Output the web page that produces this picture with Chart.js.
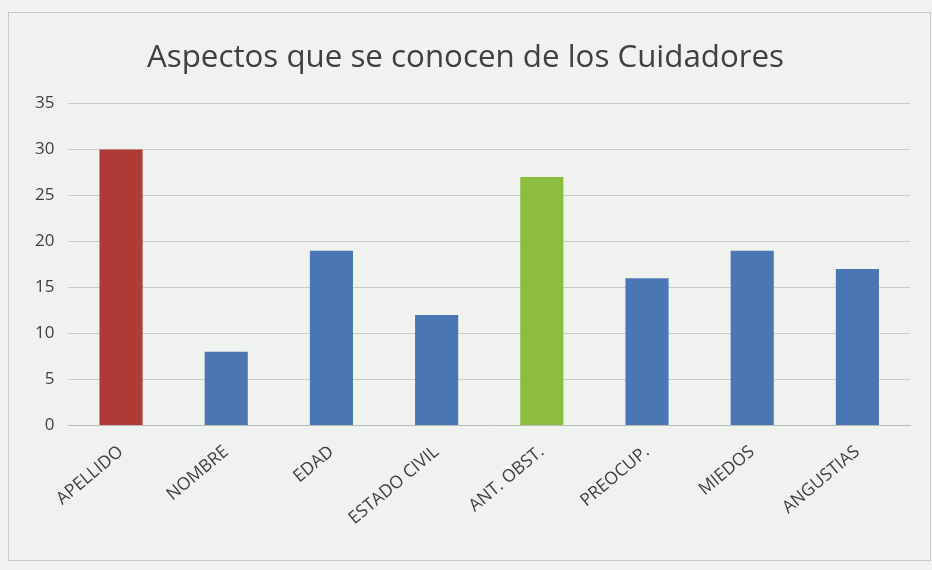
<!DOCTYPE html>
<html>
<head>
<meta charset="utf-8">
<script src="https://cdn.jsdelivr.net/npm/chart.js@4"></script>
<style>
    html, body { margin: 0; padding: 0; background: #eff2ee; }
    #wrap { position: relative; width: 932px; height: 570px; }
</style>
</head>
<body>
<div id="wrap"><canvas id="chart" width="932" height="570"></canvas></div>
<script>
// Data
const categories = [ 'APELLIDO', 'NOMBRE', 'EDAD', 'ESTADO CIVIL', 'ANT. OBST.', 'PREOCUP.', 'MIEDOS', 'ANGUSTIAS' ]
const values = [ 30, 8, 19, 12, 27, 16, 19, 17 ]
const barColors = [ '#b03a35', '#4a77b4', '#4a77b4', '#4a77b4', '#8dbd3f', '#4a77b4', '#4a77b4', '#4a77b4' ]
const yTicks = [ 0, 5, 10, 15, 20, 25, 30, 35 ]

const background = {
    id: 'background',
    beforeDraw (chart) {
        const ctx = chart.ctx
        ctx.save()
        ctx.fillStyle = '#eff2ee'
        ctx.fillRect(0, 0, chart.width, chart.height)
        ctx.strokeStyle = '#c8ccc8'
        ctx.lineWidth = 1
        ctx.strokeRect(8.5, 12.5, chart.width - 10, chart.height - 22)
        ctx.restore()
    },
}

const ctx = document.getElementById('chart').getContext('2d')
new Chart(ctx, {
    type: 'bar',
    data: {
        labels: categories,
        datasets: [
            {
                data: values,
                backgroundColor: barColors,
                categoryPercentage: 1,
                barPercentage: 0.41,
            },
        ],
    },
    options: {
        responsive: false,
        animation: false,
        layout: { padding: { left: 21, right: 22, top: 39, bottom: 33 } },
        plugins: {
            legend: { display: false },
            tooltip: { enabled: false },
            title: {
                display: true,
                text: 'Aspectos que se conocen de los Cuidadores',
                color: '#404040',
                font: { family: 'Open Sans', size: 31.3, weight: 'normal' },
                padding: { top: 0, bottom: 27 },
            },
        },
        scales: {
            y: {
                min: 0,
                max: 35,
                afterBuildTicks: (axis) => { axis.ticks = yTicks.map((v) => ({ value: v })) },
                grid: { color: '#c9ccc9', drawTicks: false },
                border: { display: false },
                ticks: {
                    color: '#404040',
                    padding: 14,
                    font: { family: 'Open Sans', size: 17 },
                },
            },
            x: {
                grid: { display: false },
                border: { color: '#b8bcb8' },
                ticks: {
                    color: '#404040',
                    minRotation: 40,
                    maxRotation: 40,
                    padding: 8,
                    font: { family: 'Open Sans', size: 17.5 },
                },
            },
        },
    },
    plugins: [ background ],
})
</script>
</body>
</html>
